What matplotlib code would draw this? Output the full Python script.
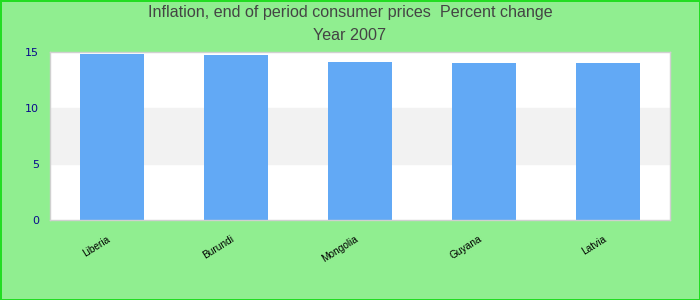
import numpy as np
import matplotlib
matplotlib.use("Agg")
import matplotlib.pyplot as plt

# data
countries = ["Liberia", "Burundi", "Mongolia", "Guyana", "Latvia"]
inflation = [14.8, 14.75, 14.15, 14.05, 14.05]
yticks = [0, 5, 10, 15]

fig = plt.figure(figsize=(7, 3), dpi=100)
fig.patch.set_facecolor("#90ee90")
fig.patch.set_edgecolor("#22dd22")
fig.patch.set_linewidth(2)

ax = fig.add_axes([50 / 700, 80 / 300, 620 / 700, 168 / 300])
ax.set_facecolor("white")

# light band between 5 and 10
ax.axhspan(5, 10, color="#f2f2f2", zorder=0)

x = np.arange(len(countries))
ax.bar(x, inflation, width=0.51, color="#62a9f5", zorder=2)

ax.set_xlim(-0.5, len(countries) - 0.5)
ax.set_ylim(0, 15)

ax.set_yticks(yticks)
ax.set_yticklabels([str(v) for v in yticks], color="#0a0a8c", fontsize=8,
                   family="DejaVu Sans")
ax.tick_params(axis="y", length=0, pad=8)

ax.set_xticks(x)
ax.set_xticklabels(countries, rotation=32, fontsize=7.3, ha="right",
                   family="Liberation Sans", color="black")
ax.tick_params(axis="x", length=0, pad=10)

for s in ax.spines.values():
    s.set_color("#d0d0d0")
    s.set_linewidth(1)

fig.text(0.5, 1 - 13 / 300, "Inflation, end of period consumer prices  Percent change",
         ha="center", va="center", fontsize=11.6, color="#444444",
         family="Liberation Sans")
fig.text(0.5, 1 - 36 / 300, "Year 2007", ha="center", va="center",
         fontsize=11.6, color="#444444", family="Liberation Sans")

fig.savefig("out.png", dpi=100, facecolor=fig.get_facecolor(),
            edgecolor=fig.get_edgecolor())
